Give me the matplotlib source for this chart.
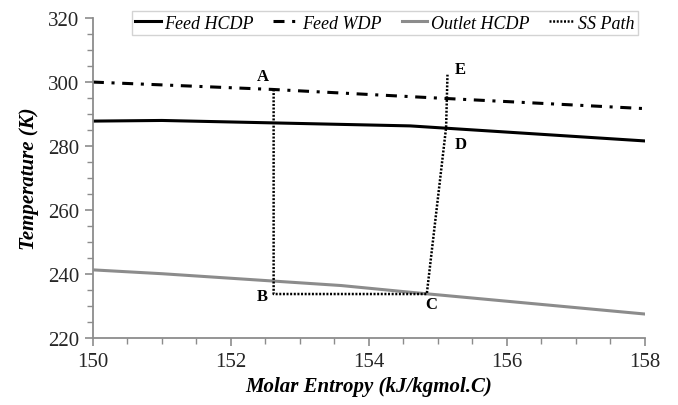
import matplotlib
matplotlib.use("Agg")
import matplotlib.pyplot as plt
from matplotlib.ticker import MultipleLocator

# Phase envelope curves (entropy kJ/kgmol.C vs temperature K)
feed_hcdp_s = [150.0, 151.0, 154.6, 158.0]
feed_hcdp_t = [287.8, 288.0, 286.3, 281.6]

feed_wdp_s = [150.0, 152.6, 155.0, 158.0]
feed_wdp_t = [300.0, 297.7, 295.0, 291.7]

outlet_hcdp_s = [150.0, 151.0, 153.6, 154.6, 158.0]
outlet_hcdp_t = [241.3, 240.1, 236.4, 234.3, 227.5]

# Supersonic separator path A -> B -> C -> D -> E
ss_path_s = [152.62, 152.62, 154.84, 155.12, 155.14]
ss_path_t = [297.7, 233.75, 233.75, 285.8, 302.3]

point_names = ["A", "B", "C", "D", "E"]
label_pos_s = [152.46, 152.46, 154.91, 155.33, 155.32]
label_pos_t = [302.0, 233.1, 230.6, 280.6, 304.1]

plt.rcParams["font.family"] = ["Liberation Serif", "DejaVu Serif"]

fig = plt.figure(figsize=(6.78, 4.06), dpi=100)
ax = fig.add_axes([0.137, 0.165, 0.814, 0.788])

ax.plot(feed_hcdp_s, feed_hcdp_t, color="black", lw=2.2, label="Feed HCDP")
ax.plot(feed_wdp_s, feed_wdp_t, color="black", lw=2.2,
        linestyle=(0, (3.6, 2.5, 1, 2.5)), label="Feed WDP")
ax.plot(outlet_hcdp_s, outlet_hcdp_t, color="#8c8c8c", lw=2.2,
        label="Outlet HCDP")
ax.plot(ss_path_s, ss_path_t, color="black", lw=1.8,
        linestyle=(0, (0.8, 0.65)), label="SS Path")

for name, s, t in zip(point_names, label_pos_s, label_pos_t):
    ax.text(s, t, name, ha="center", va="center", fontsize=12,
            fontweight="bold", color="black")

ax.set_xlim(150, 158)
ax.set_ylim(220, 320)
ax.xaxis.set_major_locator(MultipleLocator(2))
ax.xaxis.set_minor_locator(MultipleLocator(0.5))
ax.yaxis.set_major_locator(MultipleLocator(20))
ax.yaxis.set_minor_locator(MultipleLocator(5))

for side in ("top", "right"):
    ax.spines[side].set_visible(False)
for side in ("left", "bottom"):
    ax.spines[side].set_color("#8c8c8c")
    ax.spines[side].set_linewidth(1.3)

ax.tick_params(which="major", direction="out", length=6, width=1.2,
               color="#8c8c8c", labelsize=15, labelcolor="#262626", pad=4)
ax.tick_params(which="minor", direction="out", length=4, width=1.0,
               color="#8c8c8c")

ax.set_xlabel("Molar Entropy (kJ/kgmol.C)", fontsize=15, fontweight="bold",
              fontstyle="italic", labelpad=4)
ax.set_ylabel("Temperature (K)", fontsize=15, fontweight="bold",
              fontstyle="italic", labelpad=6)

leg = fig.legend(loc="upper right", bbox_to_anchor=(0.941, 0.970), ncol=4,
                 frameon=True, fancybox=False,
                 prop={"style": "italic", "size": 13},
                 handlelength=1.4, handletextpad=0.2, columnspacing=1.1,
                 borderpad=0.2, borderaxespad=0.0)
leg.get_frame().set_edgecolor("#c8c8c8")
leg.get_frame().set_linewidth(1.0)

fig.savefig("out.png", dpi=100)
